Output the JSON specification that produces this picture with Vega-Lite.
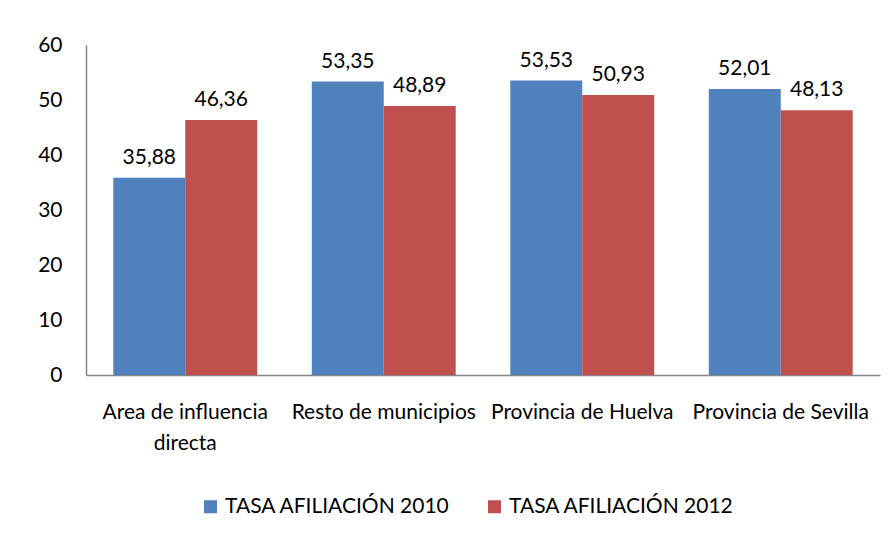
{
  "$schema": "https://vega.github.io/schema/vega-lite/v6.json",
  "width": 794,
  "height": 330,
  "autosize": {"type": "none"},
  "padding": {"left": 86, "top": 45, "right": 15, "bottom": 161},
  "background": "white",
  "config": {
    "view": {"stroke": null},
    "font": "Lato",
    "locale": {"number": {"decimal": ",", "thousands": ".", "grouping": [3], "currency": ["", " €"]}}
  },
  "data": {
    "values": [
      {"zona": "Area de influencia directa", "serie": "TASA AFILIACIÓN 2010", "tasa": 35.88},
      {"zona": "Area de influencia directa", "serie": "TASA AFILIACIÓN 2012", "tasa": 46.36},
      {"zona": "Resto de municipios", "serie": "TASA AFILIACIÓN 2010", "tasa": 53.35},
      {"zona": "Resto de municipios", "serie": "TASA AFILIACIÓN 2012", "tasa": 48.89},
      {"zona": "Provincia de Huelva", "serie": "TASA AFILIACIÓN 2010", "tasa": 53.53},
      {"zona": "Provincia de Huelva", "serie": "TASA AFILIACIÓN 2012", "tasa": 50.93},
      {"zona": "Provincia de Sevilla", "serie": "TASA AFILIACIÓN 2010", "tasa": 52.01},
      {"zona": "Provincia de Sevilla", "serie": "TASA AFILIACIÓN 2012", "tasa": 48.13}
    ]
  },
  "encoding": {
    "x": {
      "field": "zona", "type": "nominal", "sort": null,
      "scale": {"paddingInner": 0.275, "paddingOuter": 0.1375},
      "axis": {
        "title": null, "labelAngle": 0, "ticks": false,
        "domainColor": "#868686", "domainWidth": 1.5,
        "labelFontSize": 21, "labelColor": "#000000", "labelPadding": 37,
        "labelLineHeight": 31, "labelBaseline": "middle", "labelLimit": 0,
        "labelExpr": "datum.value == 'Area de influencia directa' ? ['Area de influencia', 'directa'] : datum.value"
      }
    },
    "xOffset": {"field": "serie", "type": "nominal", "scale": {"paddingInner": 0}},
    "y": {
      "field": "tasa", "type": "quantitative",
      "scale": {"domain": [0, 60], "nice": false},
      "axis": {
        "title": null, "grid": false, "ticks": false, "values": [0, 10, 20, 30, 40, 50, 60],
        "domainColor": "#868686", "domainWidth": 1.5,
        "labelFontSize": 21, "labelColor": "#000000", "labelPadding": 24
      }
    }
  },
  "layer": [
    {
      "mark": {"type": "bar"},
      "encoding": {
        "color": {
          "field": "serie", "type": "nominal",
          "scale": {"range": ["#4F81BD", "#C0504D"]},
          "legend": {
            "title": null, "orient": "none", "direction": "horizontal",
            "legendX": 114, "legendY": 451,
            "symbolType": "square", "symbolSize": 169, "symbolStrokeWidth": 0,
            "labelFontSize": 21, "labelColor": "#000000", "labelOffset": 4, "labelLimit": 0,
            "columnPadding": 33, "padding": 0
          }
        }
      }
    },
    {
      "mark": {"type": "text", "baseline": "bottom", "dy": -10, "fontSize": 21, "color": "#000000"},
      "encoding": {
        "text": {"field": "tasa", "type": "quantitative", "format": ".2f"}
      }
    }
  ]
}
